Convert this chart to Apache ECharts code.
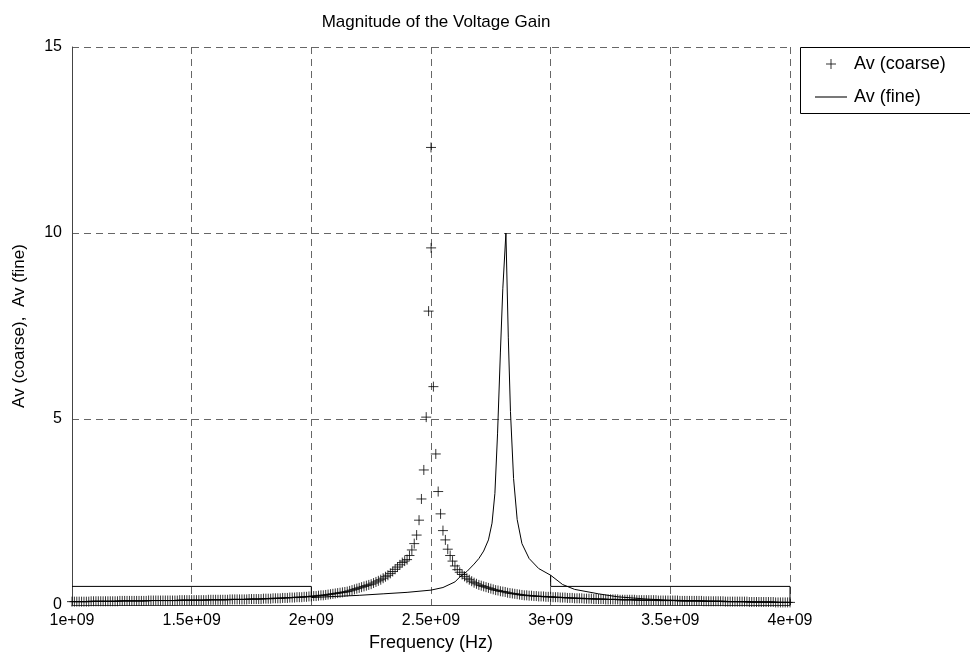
<!DOCTYPE html>
<html>
<head>
<meta charset="utf-8">
<script src="https://cdn.jsdelivr.net/npm/echarts@6/dist/echarts.min.js"></script>
<style>
  html, body { margin: 0; padding: 0; background: #fff; }
  #chart { width: 970px; height: 660px; }
</style>
</head>
<body>
<div id="chart"></div>
<script>
// coarse sweep: 1e9 .. 4e9 Hz, one sample every 1e7 Hz
var coarseStart = 1e9;
var coarseStep = 1e7;
var coarseGain = [
  0.09, 0.09, 0.09, 0.09, 0.09, 0.09, 0.09, 0.09, 0.10, 0.10,
  0.10, 0.10, 0.10, 0.10, 0.10, 0.10, 0.10, 0.10, 0.10, 0.10,
  0.11, 0.11, 0.11, 0.11, 0.11, 0.11, 0.11, 0.11, 0.11, 0.11,
  0.11, 0.11, 0.12, 0.12, 0.12, 0.12, 0.12, 0.12, 0.12, 0.12,
  0.12, 0.12, 0.12, 0.12, 0.12, 0.13, 0.13, 0.13, 0.13, 0.13,
  0.13, 0.13, 0.13, 0.13, 0.13, 0.13, 0.13, 0.14, 0.14, 0.14,
  0.14, 0.14, 0.14, 0.14, 0.14, 0.14, 0.15, 0.15, 0.15, 0.15,
  0.15, 0.15, 0.15, 0.15, 0.16, 0.16, 0.16, 0.16, 0.16, 0.16,
  0.17, 0.17, 0.17, 0.17, 0.18, 0.18, 0.18, 0.18, 0.19, 0.19,
  0.19, 0.20, 0.20, 0.20, 0.21, 0.21, 0.21, 0.22, 0.22, 0.23,
  0.23, 0.24, 0.24, 0.25, 0.26, 0.26, 0.27, 0.28, 0.29, 0.30,
  0.31, 0.32, 0.33, 0.34, 0.35, 0.36, 0.38, 0.40, 0.42, 0.44,
  0.46, 0.48, 0.50, 0.52, 0.54, 0.56, 0.59, 0.62, 0.65, 0.68,
  0.72, 0.76, 0.80, 0.85, 0.90, 0.96, 1.02, 1.08, 1.14, 1.18,
  1.22, 1.33, 1.48, 1.65, 1.88, 2.28, 2.85, 3.63, 5.05, 7.90,
  12.3, 5.87, 4.06, 3.05, 2.45, 2.00, 1.75, 1.50, 1.33, 1.18,
  1.05, 0.95, 0.88, 0.82, 0.77, 0.72, 0.68, 0.64, 0.60, 0.57,
  0.54, 0.52, 0.50, 0.48, 0.46, 0.44, 0.42, 0.40, 0.39, 0.37,
  0.36, 0.35, 0.33, 0.32, 0.31, 0.30, 0.29, 0.28, 0.27, 0.26,
  0.26, 0.25, 0.25, 0.24, 0.24, 0.23, 0.23, 0.23, 0.22, 0.22,
  0.22, 0.21, 0.21, 0.21, 0.20, 0.20, 0.20, 0.19, 0.19, 0.19,
  0.18, 0.18, 0.18, 0.18, 0.17, 0.17, 0.17, 0.17, 0.16, 0.16,
  0.16, 0.16, 0.16, 0.15, 0.15, 0.15, 0.15, 0.15, 0.15, 0.14,
  0.14, 0.14, 0.14, 0.14, 0.14, 0.14, 0.13, 0.13, 0.13, 0.13,
  0.13, 0.13, 0.13, 0.13, 0.13, 0.12, 0.12, 0.12, 0.12, 0.12,
  0.12, 0.12, 0.12, 0.12, 0.11, 0.11, 0.11, 0.11, 0.11, 0.11,
  0.11, 0.11, 0.11, 0.11, 0.10, 0.10, 0.10, 0.10, 0.10, 0.10,
  0.10, 0.10, 0.10, 0.09, 0.09, 0.09, 0.09, 0.09, 0.09, 0.09,
  0.09, 0.09, 0.09, 0.08, 0.08, 0.08, 0.08, 0.08, 0.08, 0.08,
  0.08, 0.08, 0.08, 0.08, 0.07, 0.07, 0.07, 0.07, 0.07, 0.07,
  0.07
];
// extra coarse point sitting next to the resonance
var coarseExtraFreq = [2.5005e9];
var coarseExtraGain = [9.6];

// fine sweep
var fineFreq = [
  1.0e9, 2.0e9, 2.0e9, 2.1e9, 2.2e9, 2.3e9, 2.4e9, 2.5e9, 2.55e9, 2.6e9,
  2.62e9, 2.65e9, 2.68e9, 2.7e9, 2.72e9, 2.74e9, 2.755e9, 2.767e9, 2.778e9, 2.79e9,
  2.8e9, 2.813e9, 2.823e9, 2.832e9, 2.845e9, 2.86e9, 2.88e9, 2.91e9, 2.95e9, 3.0e9,
  3.05e9, 3.1e9, 3.2e9, 3.28e9, 3.4e9, 3.5e9, 3.7e9, 3.85e9, 4.0e9
];
var fineGain = [
  0.5, 0.5, 0.2, 0.23, 0.26, 0.3, 0.34, 0.4, 0.47, 0.62,
  0.75, 0.9, 1.1, 1.25, 1.45, 1.75, 2.2, 3.0, 4.6, 6.8,
  8.5, 10.0, 7.2, 5.2, 3.4, 2.3, 1.65, 1.25, 0.98, 0.8,
  0.55, 0.42, 0.3, 0.22, 0.16, 0.13, 0.1, 0.08, 0.07
];
var stepFreq = [3.0e9, 3.0e9, 4.0e9, 4.0e9];
var stepGain = [0.8, 0.5, 0.5, 0.0];

var xTicks = [1e9, 1.5e9, 2e9, 2.5e9, 3e9, 3.5e9, 4e9];
var yTicks = [0, 5, 10, 15];

var font = "Liberation Sans, Arial, sans-serif";

function pairs(xs, ys) {
  return xs.map(function (x, i) { return [x, ys[i]]; });
}

var coarseData = coarseGain.map(function (v, i) {
  return [coarseStart + i * coarseStep, v];
});
coarseData = coarseData.concat(pairs(coarseExtraFreq, coarseExtraGain));

var plus = "path://M0,5L10,5M5,0L5,10";
var plusSmall = "path://M0,0M14,14M2,7L12,7M7,2L7,12";
var dash = "path://M0,0H30V1H0Z";

var chart = echarts.init(document.getElementById("chart"));
var option = {
  animation: false,
  backgroundColor: "#fff",
  title: {
    text: "Magnitude of the Voltage Gain",
    left: 431,
    textAlign: "center",
    top: 9,
    textStyle: { fontFamily: font, fontSize: 17, fontWeight: "normal", color: "#000" }
  },
  grid: { left: 72, right: 180, top: 47, bottom: 55 },
  graphic: [{
    type: "rect",
    shape: { x: 800.5, y: 47.5, width: 200, height: 66 },
    style: { fill: "#fff", stroke: "#000", lineWidth: 1 },
    z: 0
  }],
  legend: {
    orient: "vertical",
    left: 810,
    top: 50,
    itemWidth: 32,
    itemHeight: 14,
    itemGap: 15,
    z: 10,
    data: [
      { name: "Av (coarse)", icon: plusSmall,
        itemStyle: { color: "transparent", borderColor: "#000", borderWidth: 1 } },
      { name: "Av (fine)", icon: dash,
        itemStyle: { color: "#000", borderWidth: 0 } }
    ],
    textStyle: { fontFamily: font, fontSize: 18, color: "#000", padding: [0, 0, 0, 2] }
  },
  xAxis: {
    type: "value",
    min: xTicks[0],
    max: xTicks[xTicks.length - 1],
    interval: xTicks[1] - xTicks[0],
    name: "Frequency (Hz)",
    nameLocation: "middle",
    nameGap: 27,
    nameTextStyle: { fontFamily: font, fontSize: 18, color: "#000" },
    axisLine: { show: true, onZero: false, lineStyle: { color: "#444", width: 1 } },
    axisTick: { show: false },
    axisLabel: {
      fontFamily: font, fontSize: 16, color: "#000", margin: 8,
      formatter: function (v) { return v.toExponential().replace("e+", "e+0"); }
    },
    splitLine: { show: true, lineStyle: { color: "#666", type: [7, 5], width: 1 } }
  },
  yAxis: {
    type: "value",
    min: yTicks[0],
    max: yTicks[yTicks.length - 1],
    interval: yTicks[1] - yTicks[0],
    name: "Av (coarse),  Av (fine)",
    nameLocation: "middle",
    nameGap: 44,
    nameTextStyle: { fontFamily: font, fontSize: 17, color: "#000" },
    axisLine: { show: true, lineStyle: { color: "#444", width: 1 } },
    axisTick: { show: false },
    axisLabel: { fontFamily: font, fontSize: 16, color: "#000", margin: 10 },
    splitLine: { show: true, lineStyle: { color: "#666", type: [7, 5], width: 1 } }
  },
  series: [
    {
      name: "Av (coarse)",
      type: "scatter",
      symbol: plus,
      symbolSize: 10,
      clip: false,
      data: coarseData,
      itemStyle: { color: "transparent", borderColor: "#000", borderWidth: 1 },
      emphasis: { disabled: true },
      z: 3
    },
    {
      name: "Av (fine)",
      type: "line",
      symbol: "none",
      data: pairs(fineFreq, fineGain),
      lineStyle: { color: "#000", width: 1 },
      itemStyle: { color: "#000" },
      emphasis: { disabled: true },
      z: 2
    },
    {
      name: "Av (fine)",
      type: "line",
      symbol: "none",
      data: pairs(stepFreq, stepGain),
      lineStyle: { color: "#000", width: 1 },
      itemStyle: { color: "#000" },
      emphasis: { disabled: true },
      z: 2
    }
  ]
};
chart.setOption(option);
</script>
</body>
</html>
